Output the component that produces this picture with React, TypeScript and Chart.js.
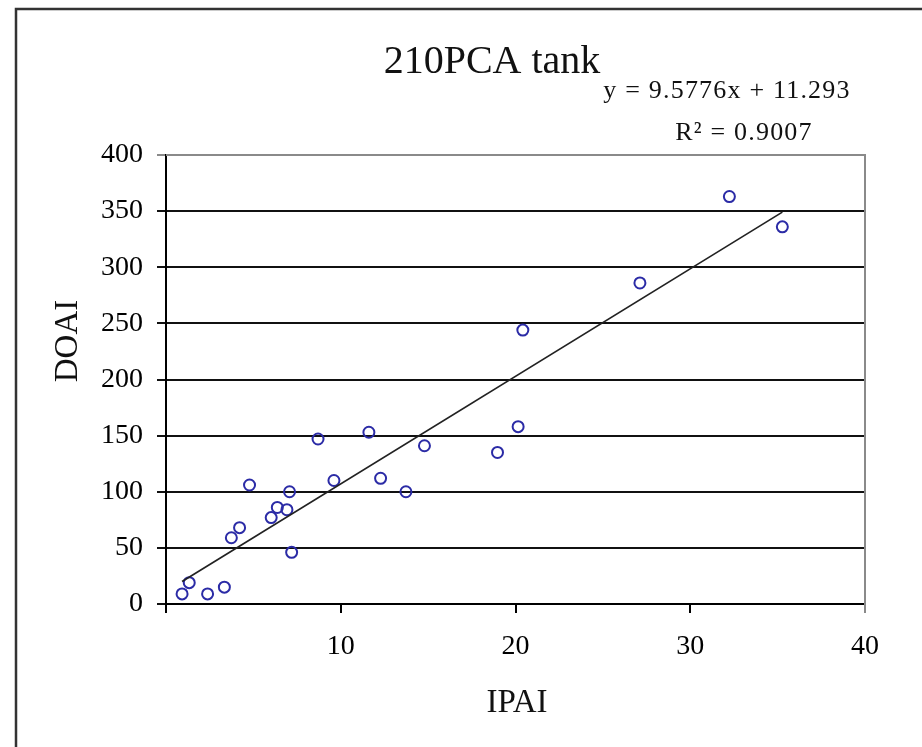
import React, { useEffect, useRef } from "react";
import { Chart, registerables } from "chart.js";

Chart.register(...registerables);

const TITLE = "210PCA tank";
const EQUATION = "y = 9.5776x + 11.293";
const R_SQUARED = "R\u00B2 = 0.9007";
const X_TITLE = "IPAI";
const Y_TITLE = "DOAI";

const ipai = [0.92, 1.33, 2.38, 3.34, 3.74, 4.21, 4.78, 6.02, 6.37, 6.92, 7.07, 7.19, 8.7, 9.61, 11.61, 12.28, 13.73, 14.79, 18.97, 20.15, 20.42, 27.12, 32.24, 35.27];
const doai = [9, 19, 9, 15, 59, 68, 106, 77, 86, 84, 100, 46, 147, 110, 153, 112, 100, 141, 135, 158, 244, 286, 363, 336];

const SLOPE = 9.5776;
const INTERCEPT = 11.293;

const X_TICKS = [0, 10, 20, 30, 40];
const Y_TICKS = [0, 50, 100, 150, 200, 250, 300, 350, 400];

const SERIF = "'Liberation Serif', 'Times New Roman', serif";

export default function App() {
  const ref = useRef<HTMLCanvasElement | null>(null);

  useEffect(() => {
    document.body.style.margin = "0";
    const canvas = ref.current;
    if (!canvas) return;

    const points = ipai.map((x, i) => ({ x, y: doai[i] }));
    const xMin = Math.min(...ipai);
    const xMax = Math.max(...ipai);
    const trend = [
      { x: xMin, y: SLOPE * xMin + INTERCEPT },
      { x: xMax, y: SLOPE * xMax + INTERCEPT },
    ];

    const decor = {
      id: "decor",
      afterDraw(chart: any) {
        const ctx = chart.ctx as CanvasRenderingContext2D;
        const area = chart.chartArea;
        ctx.save();
        // outer frame (left & top visible)
        ctx.strokeStyle = "#333";
        ctx.lineWidth = 2.5;
        ctx.beginPath();
        ctx.moveTo(16, 760);
        ctx.lineTo(16, 9);
        ctx.lineTo(930, 9);
        ctx.stroke();
        // plot border top & right (gray)
        ctx.strokeStyle = "#8a8a8a";
        ctx.lineWidth = 2;
        ctx.beginPath();
        ctx.moveTo(area.left, area.top);
        ctx.lineTo(area.right, area.top);
        ctx.lineTo(area.right, area.bottom + 9);
        ctx.stroke();

        ctx.fillStyle = "#111";
        ctx.textAlign = "center";
        ctx.textBaseline = "alphabetic";
        ctx.font = `40px ${SERIF}`;
        ctx.fillText(TITLE, 492, 73);

        ctx.font = `26px ${SERIF}`;
        (ctx as any).letterSpacing = "1.2px";
        ctx.fillText(EQUATION, 727, 98);
        ctx.fillText(R_SQUARED, 744, 140);
        (ctx as any).letterSpacing = "0px";

        ctx.font = `33px ${SERIF}`;
        ctx.fillText(X_TITLE, 517, 712);
        ctx.save();
        ctx.translate(77, 341);
        ctx.rotate(-Math.PI / 2);
        ctx.fillText(Y_TITLE, 0, 0);
        ctx.restore();
        ctx.restore();
      },
    };

    const chart = new Chart(canvas, {
      type: "scatter",
      data: {
        datasets: [
          {
            type: "line",
            data: trend,
            borderColor: "#222",
            borderWidth: 1.7,
            pointRadius: 0,
            fill: false,
          } as any,
          {
            data: points,
            pointStyle: "circle",
            pointRadius: 5.5,
            pointBorderWidth: 2,
            pointBorderColor: "#2b2ba6",
            pointBackgroundColor: "rgba(0,0,0,0)",
            borderColor: "#2b2ba6",
            backgroundColor: "rgba(0,0,0,0)",
          },
        ],
      },
      options: {
        animation: false,
        responsive: false,
        devicePixelRatio: 1,
        layout: { padding: { top: 155, right: 57, left: 0, bottom: 0 } },
        plugins: {
          legend: { display: false },
          title: { display: false },
          tooltip: { enabled: false },
        },
        scales: {
          x: {
            type: "linear",
            min: 0,
            max: 40,
            afterBuildTicks: (s: any) => {
              s.ticks = X_TICKS.map((v) => ({ value: v }));
            },
            afterFit: (s: any) => {
              s.height = 143;
            },
            border: { display: true, color: "#000", width: 2 },
            grid: {
              drawOnChartArea: false,
              drawTicks: true,
              tickLength: 9,
              color: (c: any) => (c.tick && c.tick.value === 40 ? "#666" : "#000"),
              lineWidth: 2,
            },
            ticks: {
              color: "#000",
              font: { family: SERIF, size: 28 },
              padding: 17,
              maxRotation: 0,
              callback: (v: any) => (v === 0 ? "" : String(v)),
            },
          },
          y: {
            type: "linear",
            min: 0,
            max: 400,
            afterBuildTicks: (s: any) => {
              s.ticks = Y_TICKS.map((v) => ({ value: v }));
            },
            afterFit: (s: any) => {
              s.width = 166;
            },
            border: { display: true, color: "#000", width: 2 },
            grid: {
              drawOnChartArea: true,
              drawTicks: true,
              tickLength: 9,
              color: (c: any) => (c.tick && c.tick.value === 400 ? "#8a8a8a" : "#111"),
              lineWidth: 2,
            },
            ticks: {
              color: "#000",
              font: { family: SERIF, size: 28 },
              padding: 14,
              callback: (v: any) => String(v),
            },
          },
        },
      } as any,
      plugins: [decor],
    });

    return () => chart.destroy();
  }, []);

  return (
    <div style={{ width: 922, height: 747, position: "relative", background: "#fff" }}>
      <canvas ref={ref} width={922} height={747} style={{ display: "block" }} />
    </div>
  );
}
